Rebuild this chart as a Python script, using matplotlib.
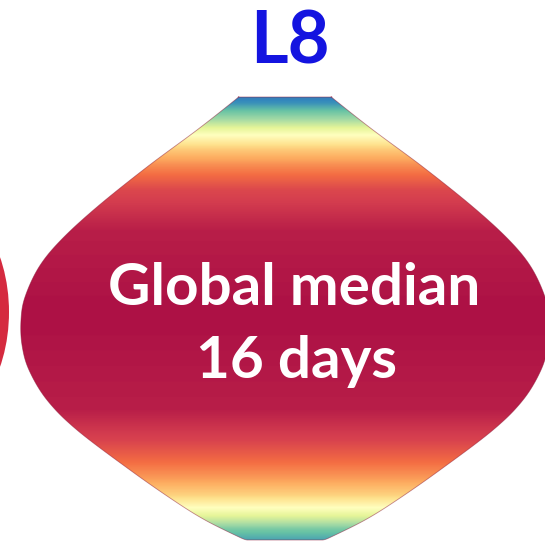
import numpy as np
import matplotlib
matplotlib.use("Agg")
import matplotlib.pyplot as plt
from matplotlib.patches import Polygon, Ellipse

# ---- data ----
title = "L8"
label_lines = ["Global median", "16 days"]

# violin outline: vertical level and half-width
profile_y = [97, 100, 130, 167, 207, 240, 267, 297, 320, 345, 370, 400, 430, 470, 500, 520, 537, 540]
profile_hw = [47, 50, 88, 138, 188, 224, 246, 260, 264, 263, 256, 238, 208, 155, 112, 80, 46, 38]
center_x = 285

# colour value (Spectral colormap position) along the vertical axis
color_y = [97, 103, 110, 120, 135, 150, 165, 190, 230, 300, 330, 410, 440, 460, 478, 495, 508, 520, 530, 540]
color_v = [0.92, 0.88, 0.8, 0.7, 0.5, 0.35, 0.25, 0.12, 0.05, 0.03, 0.03, 0.05, 0.11, 0.19, 0.27, 0.37, 0.5, 0.65, 0.78, 0.85]


def catmull_rom(x, y, n=20):
    x = np.asarray(x, float)
    y = np.asarray(y, float)
    P = np.column_stack([x, y])
    P = np.vstack([P[0], P, P[-1]])
    out = []
    t = np.linspace(0, 1, n, endpoint=False)[:, None]
    for i in range(1, len(P) - 2):
        p0, p1, p2, p3 = P[i - 1], P[i], P[i + 1], P[i + 2]
        seg = 0.5 * ((2 * p1) + (-p0 + p2) * t + (2 * p0 - 5 * p1 + 4 * p2 - p3) * t ** 2
                     + (-p0 + 3 * p1 - 3 * p2 + p3) * t ** 3)
        out.append(seg)
    out.append(P[-2][None, :])
    out = np.vstack(out)
    return out[:, 0], out[:, 1]


W, H = 545, 541
fig = plt.figure(figsize=(W / 100, H / 100), dpi=100)
ax = fig.add_axes([0, 0, 1, 1])
ax.set_xlim(0, W)
ax.set_ylim(H, 0)
ax.axis("off")

# neighbouring (cut-off) violin on the left
left = Ellipse((-72, 312), 162, 240, facecolor="#d52a3f", edgecolor="none")
ax.add_patch(left)

sy, shw = catmull_rom(profile_y, profile_hw)
xs = np.concatenate([center_x - shw, (center_x + shw)[::-1]])
ys = np.concatenate([sy, sy[::-1]])
poly = Polygon(np.column_stack([xs, ys]), closed=True, facecolor="none",
               edgecolor="#8a1030", linewidth=0.6, alpha=0.5)
ax.add_patch(poly)

ymin, ymax = min(profile_y), max(profile_y)
yy = np.linspace(ymin, ymax, 800)
vals = np.interp(yy, color_y, color_v)
img = np.tile(vals[:, None], (1, 4))
im = ax.imshow(img, cmap="Spectral", vmin=0, vmax=1, aspect="auto",
               extent=[center_x - 300, center_x + 300, ymax, ymin],
               interpolation="bilinear")
im.set_clip_path(poly)

font = ["Lato", "DejaVu Sans"]
ax.text(290, 63, title, color="#1414e0", fontsize=52, fontweight="bold",
        ha="center", va="baseline", family=font)
ax.text(294, 305, label_lines[0], color="white", fontsize=42, fontweight="bold",
        ha="center", va="baseline", family=font)
ax.text(297, 378, label_lines[1], color="white", fontsize=42, fontweight="bold",
        ha="center", va="baseline", family=font)

fig.savefig("out.png", dpi=100)
